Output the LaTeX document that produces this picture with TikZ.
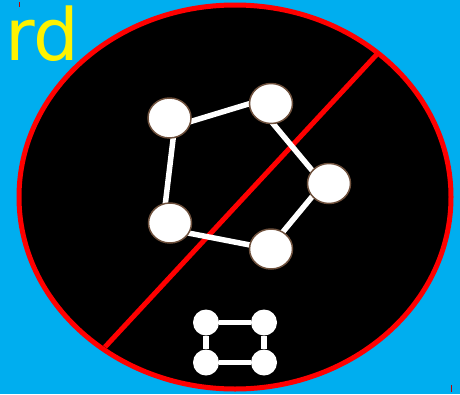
\documentclass[tikz,border=0pt]{standalone}
\usepackage{fontspec}
\usetikzlibrary{shapes.geometric}
\newfontfamily\dvs{DejaVu Sans}
\definecolor{bg}{RGB}{0,174,239}
\definecolor{nbrown}{RGB}{110,80,60}
\begin{document}
\begin{tikzpicture}[x=1pt,y=-1pt,
  bignode/.style={ellipse,draw=nbrown,line width=1.5pt,fill=white,minimum width=43pt,minimum height=40pt,inner sep=0pt},
  smallnode/.style={circle,fill=white,minimum size=26pt,inner sep=0pt},
  edge/.style={white,line width=5.5pt},
  tick/.style={red!75!black,line width=1pt}]
\useasboundingbox (0,0) rectangle (460,394);
\fill[bg] (0,0) rectangle (460,394);
\draw[red,line width=5pt,fill=black] (235,197) ellipse [x radius=216, y radius=192];
\coordinate (ra) at (105,347);
\coordinate (rb) at (379,52);
\draw[red,line width=5pt] (ra) -- (rb);
\node[anchor=base west,inner sep=0pt,text=yellow,font=\dvs\fontsize{72}{72}\selectfont] (t) at (5,60) {rd};
\draw[tick] (19,2) -- (19,7);
\draw[tick] (451,385) -- (451,392);
% pentagon of connectors
\coordinate (v1) at (174.6,126.4);
\coordinate (v2) at (255,102);
\coordinate (v3) at (323,183.5);
\coordinate (v4) at (269,248.7);
\coordinate (v5) at (162.4,228);
\draw[edge] (v1) -- (v2);
\draw[edge] (v2) -- (v3);
\draw[edge] (v3) -- (v4);
\draw[edge] (v4) -- (v5);
\draw[edge] (v5) -- (v1);
\node[bignode] (n1) at (169.5,118) {};
\node[bignode] (n2) at (271,103.5) {};
\node[bignode] (n3) at (329,183.5) {};
\node[bignode] (n4) at (271,249) {};
\node[bignode] (n5) at (170,223) {};
\node[smallnode] (s1) at (206,322.5) {};
\node[smallnode] (s2) at (264,322.5) {};
\node[smallnode] (s3) at (206,362.5) {};
\node[smallnode] (s4) at (264,362.5) {};
\draw[edge] (s1) -- (s2);
\draw[edge] (s2) -- (s4);
\draw[edge] (s4) -- (s3);
\draw[edge] (s3) -- (s1);
\end{tikzpicture}
\end{document}
